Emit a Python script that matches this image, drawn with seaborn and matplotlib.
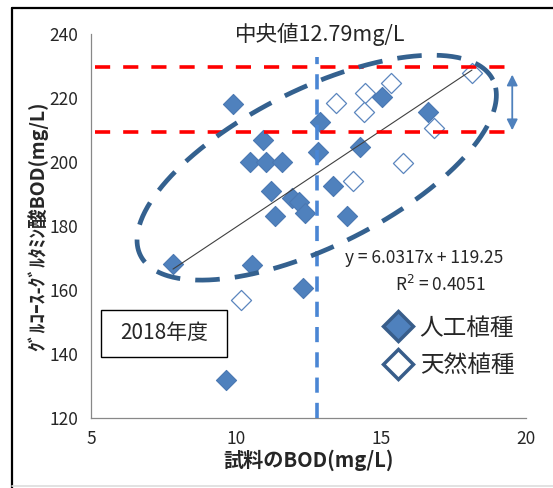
import numpy as np
import pandas as pd
import matplotlib
matplotlib.use("Agg")
import matplotlib.pyplot as plt
from matplotlib.lines import Line2D
from matplotlib.patches import Rectangle
import seaborn as sns

# 試料BOD (x) と グルコース-グルタミン酸BOD (y)
x_artificial = [7.83, 9.90, 10.93, 10.49, 11.05, 11.60, 11.22, 11.35, 12.91, 12.85, 13.35,
                11.93, 12.19, 12.39, 10.55, 12.31, 9.66, 15.05, 16.62, 14.30, 13.83]
y_artificial = [168.1, 218.1, 206.9, 200.0, 200.0, 200.0, 190.9, 183.1, 212.6, 203.2, 192.5,
                188.6, 187.5, 184.1, 167.7, 160.5, 131.8, 220.4, 215.7, 204.6, 183.0]
x_natural = [13.46, 14.46, 15.35, 14.41, 18.15, 16.85, 15.77, 14.04, 10.18]
y_natural = [218.3, 221.4, 224.6, 215.7, 227.7, 210.5, 199.7, 194.1, 156.8]

label_artificial = "人工植種"
label_natural = "天然植種"
year_label = "2018年度"

median_x = 12.79
slope, intercept, r2 = 6.0317, 119.25, 0.4051
band_low, band_high = 209.5, 229.8

x_ticks = [5, 10, 15, 20]
y_ticks = [120, 140, 160, 180, 200, 220, 240]

sns.set_style("white")
plt.rcParams["font.family"] = ["Noto Sans CJK JP", "DejaVu Sans"]

df_art = pd.DataFrame({"x": x_artificial, "y": y_artificial})
df_nat = pd.DataFrame({"x": x_natural, "y": y_natural})

fig = plt.figure(figsize=(5.53, 4.88), dpi=100)
ax = fig.add_axes([0.1646, 0.1441, 0.7858, 0.7862])

fill_c = "#4F81BD"
dark_c = "#385D8A"

sns.scatterplot(data=df_nat, x="x", y="y", ax=ax, marker="D", s=105,
                facecolor="white", edgecolor="#5B86BE", linewidth=0.9, zorder=3)
sns.scatterplot(data=df_art, x="x", y="y", ax=ax, marker="D", s=105,
                color=fill_c, edgecolor="#4A78B2", linewidth=0.8, zorder=4)

# 回帰直線
all_x = np.array(x_artificial + x_natural)
xs = np.array([all_x.min(), all_x.max()])
ax.plot(xs, slope * xs + intercept, color="#404040", lw=0.8, zorder=5)

# 中央値の縦線
ax.plot([median_x, median_x], [120, 232.8], color="#4A86D4", lw=2.6,
        dashes=(4.2, 2.8), zorder=6, solid_capstyle="butt", dash_capstyle="butt")

# 赤い破線の帯
for yv in (band_high, band_low):
    ax.plot([5.14, 19.4], [yv, yv], color="#FF0000", lw=2.6,
            dashes=(4.2, 3.6), zorder=6, dash_capstyle="butt")

# 両矢印
ax.annotate("", xy=(19.54, 209.9), xytext=(19.54, 227.3),
            arrowprops=dict(arrowstyle="<|-|>", color="#4F81BD", lw=1.3,
                            mutation_scale=16, shrinkA=0, shrinkB=0), zorder=7)

# 楕円の破線
t = np.linspace(0, 2 * np.pi, 400)
cx, cy = 12.79, 198.2
ex = cx + 6.083 * np.cos(t) - 1.210 * np.sin(t)
ey = cy + 27.47 * np.cos(t) + 21.97 * np.sin(t)
ax.plot(ex, ey, color="#34618F", lw=3.4, dashes=(5.2, 3.2), zorder=7,
        dash_capstyle="butt")

ax.set_xlim(5, 20)
ax.set_ylim(120, 240)
ax.set_xticks(x_ticks)
ax.set_yticks(y_ticks)
ax.tick_params(axis="both", labelsize=12.5, length=5, width=0.9, color="#888888",
               direction="out", pad=4)
for side in ("top", "right"):
    ax.spines[side].set_visible(False)
for side in ("left", "bottom"):
    ax.spines[side].set_color("#888888")
    ax.spines[side].set_linewidth(0.9)

ax.set_xlabel("試料のBOD(mg/L)", fontsize=14.5, fontweight="bold", labelpad=1)
ax.set_ylabel("ｸﾞﾙｺｰｽ-ｸﾞﾙﾀﾐﾝ酸BOD(mg/L)", fontsize=14, fontweight="bold", labelpad=1)

ax.text(0.527, 1.0, f"中央値{median_x}mg/L", transform=ax.transAxes,
        ha="center", va="center", fontsize=15.5)

ax.text(0.585, 0.416, f"y = {slope}x + {intercept}", transform=ax.transAxes,
        ha="left", va="center", fontsize=12.5)
ax.text(0.804, 0.346, f"R$^2$ = {r2}", transform=ax.transAxes,
        ha="center", va="center", fontsize=12.5)

# 年度ラベルの枠
bx0 = (101 - 91) / 434.3
by0 = 1 - (357 - 34) / 383.7
bw = (227 - 101) / 434.3
bh = (357 - 310) / 383.7
ax.add_patch(Rectangle((bx0, by0), bw, bh, transform=ax.transAxes,
                       facecolor="white", edgecolor="black", lw=1.0, zorder=8))
ax.text(bx0 + bw / 2, by0 + bh / 2, year_label, transform=ax.transAxes,
        ha="center", va="center", fontsize=15, zorder=9)

handles = [
    Line2D([], [], marker="D", ls="none", markersize=15, markerfacecolor=fill_c,
           markeredgecolor=dark_c, markeredgewidth=2.5),
    Line2D([], [], marker="D", ls="none", markersize=15, markerfacecolor="white",
           markeredgecolor=dark_c, markeredgewidth=2.5),
]
ax.legend(handles, [label_artificial, label_natural], loc="center left",
          bbox_to_anchor=(0.645, 0.185), frameon=False, fontsize=17,
          handlelength=1.3, handletextpad=0.25, labelspacing=0.6, borderpad=0)

# 外枠
fig.add_artist(Line2D([12 / 553, 12 / 553], [0, 1 - 8 / 488], color="black", lw=1.6,
                      transform=fig.transFigure))
fig.add_artist(Line2D([12 / 553, 1], [1 - 8 / 488, 1 - 8 / 488], color="black", lw=1.6,
                      transform=fig.transFigure))
fig.add_artist(Line2D([12 / 553, 1], [2 / 488, 2 / 488], color="#DDDDDD", lw=1.2,
                      transform=fig.transFigure))

fig.savefig("out.png", dpi=100)
